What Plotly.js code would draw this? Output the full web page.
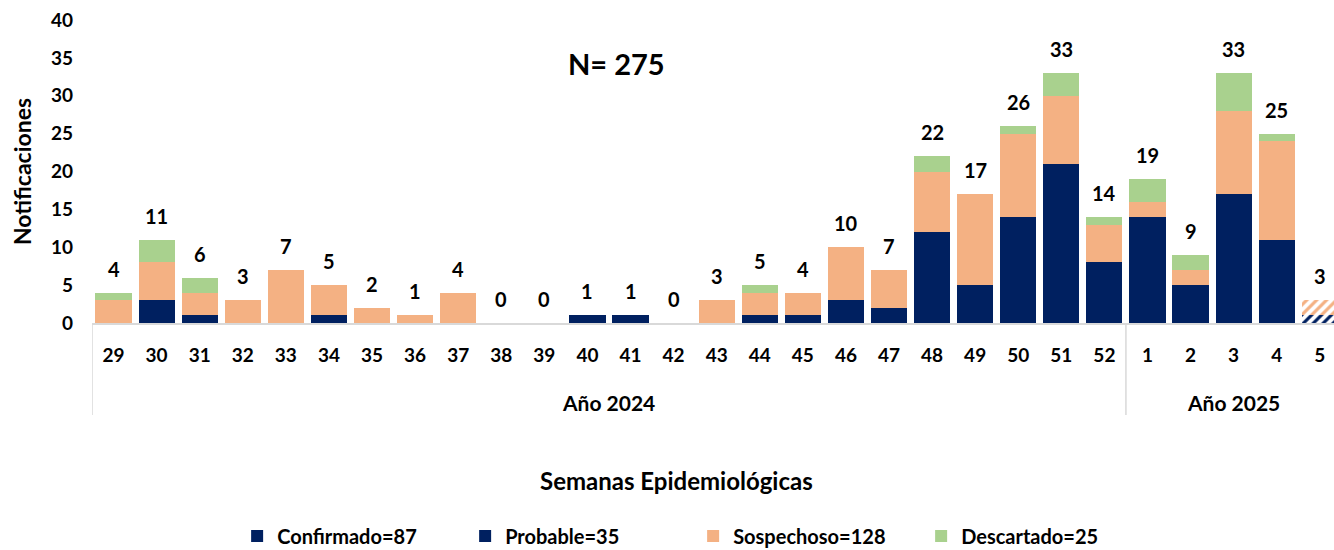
<!DOCTYPE html>
<html>
<head>
<meta charset="utf-8">
<script src="https://cdn.plot.ly/plotly-3.0.1.min.js"></script>
<style>
  html, body { margin:0; padding:0; background:#fff; overflow:hidden; }
  #chart { width:1334px; height:550px; }
</style>
</head>
<body>
<div id="chart"></div>
<script>
const weeks = ['29','30','31','32','33','34','35','36','37','38','39','40','41','42','43','44','45','46','47','48','49','50','51','52','1','2','3','4','5'];
const confirmado = [0,3,1,0,0,1,0,0,0,0,0,1,1,0,0,1,1,0,0,3,4,14,20,7,13,0,17,0,0];
const probable   = [0,0,0,0,0,0,0,0,0,0,0,0,0,0,0,0,0,3,2,9,1,0,1,1,1,5,0,11,1];
const sospechoso = [3,5,3,3,7,4,2,1,4,0,0,0,0,0,3,3,3,7,5,8,12,11,9,5,2,2,11,13,2];
const descartado = [1,3,2,0,0,0,0,0,0,0,0,0,0,0,0,1,0,0,0,2,0,1,3,1,3,2,5,1,0];
const yearLabels = [{text:'Año 2024', from:0, to:23}, {text:'Año 2025', from:24, to:28}];

const sum = a => a.reduce((s,v)=>s+v,0);
const totals = weeks.map((w,i)=>confirmado[i]+probable[i]+sospechoso[i]+descartado[i]);
const N = sum(totals);

const NAVY = '#002060', ORANGE = '#F4B183', GREEN = '#A9D18E';
const FONT = 'Lato, "Open Sans", sans-serif';
const lastIdx = weeks.length - 1;
const patShape = weeks.map((w,i)=> i===lastIdx ? '/' : '');
const pattern = {shape: patShape, fillmode:'replace', bgcolor:'#ffffff', size:7, solidity:0.45};

function barTrace(name, vals, color){
  return {type:'bar', x:weeks, y:vals, name:name + '=' + sum(vals),
    marker:{color:color, pattern:pattern, line:{width:0}}, hoverinfo:'x+y+name'};
}
const data = [
  barTrace('Confirmado', confirmado, NAVY),
  barTrace('Probable', probable, NAVY),
  barTrace('Sospechoso', sospechoso, ORANGE),
  barTrace('Descartado', descartado, GREEN)
];

const annotations = weeks.map((w,i)=>({
  x:i, y:totals[i], xref:'x', yref:'y', text:String(totals[i]), showarrow:false,
  yanchor:'middle', yshift:24, font:{family:FONT, size:20, color:'#000', weight:700}
}));
yearLabels.forEach(g=>annotations.push({
  x:(g.from+g.to)/2, y:-0.264, xref:'x', yref:'paper', text:g.text, showarrow:false,
  yanchor:'middle', font:{family:FONT, size:21, color:'#000', weight:700}
}));
annotations.push({x:0.471, y:-0.521, xref:'paper', yref:'paper', text:'Semanas Epidemiológicas',
  showarrow:false, yanchor:'middle', font:{family:FONT, size:24, color:'#000', weight:700}});
annotations.push({x:0.4227, y:0.858, xref:'paper', yref:'paper', text:'N= ' + N,
  showarrow:false, yanchor:'middle', font:{family:FONT, size:29, color:'#000', weight:700}});

const shapes = [
  {type:'line', xref:'x', yref:'paper', x0:-0.5, x1:-0.5, y0:0, y1:-0.304, line:{color:'#d9d9d9', width:1.5}},
  {type:'line', xref:'x', yref:'paper', x0:23.5, x1:23.5, y0:0, y1:-0.304, line:{color:'#d9d9d9', width:1.5}}
];

const layout = {
  width:1334, height:550,
  margin:{l:92, r:0, t:20, b:227, pad:0, autoexpand:false},
  paper_bgcolor:'#fff', plot_bgcolor:'#fff',
  barmode:'stack', bargap:0.16,
  font:{family:FONT, color:'#000'},
  xaxis:{type:'category', range:[-0.5, 28.33], showgrid:false, zeroline:false,
    showline:true, linecolor:'#d9d9d9', linewidth:1.5, ticks:'', ticklabelstandoff:15,
    tickfont:{family:FONT, size:19, color:'#000', weight:700}, fixedrange:true},
  yaxis:{range:[0,40], dtick:5, showgrid:false, zeroline:false, showline:false, ticks:'',
    ticklabelstandoff:18, tickfont:{family:FONT, size:19, color:'#000', weight:700},
    title:{text:'Notificaciones', standoff:12, font:{family:FONT, size:23, color:'#000', weight:700}},
    automargin:false, fixedrange:true},
  showlegend:true,
  legend:{orientation:'h', x:0.484, xanchor:'center', y:-0.703, yanchor:'middle',
    entrywidth:183, entrywidthmode:'pixels', tracegroupgap:0,
    font:{family:FONT, size:20, color:'#000', weight:700}, traceorder:'normal', itemclick:false},
  annotations:annotations,
  shapes:shapes
};

Plotly.newPlot('chart', data, layout, {displayModeBar:false, staticPlot:true});
</script>
</body>
</html>
